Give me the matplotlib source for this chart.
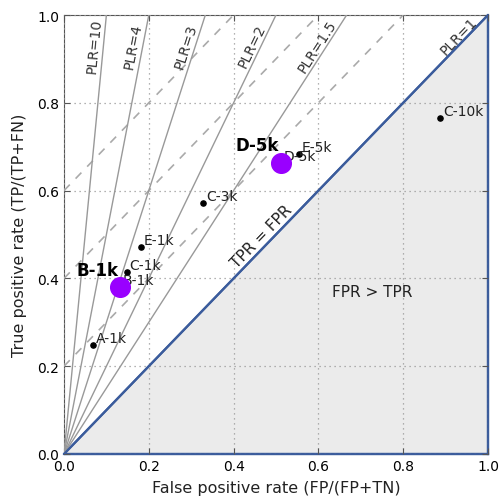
import numpy as np
import matplotlib
matplotlib.use("Agg")
import matplotlib.pyplot as plt
from matplotlib.patches import Polygon

# ---- data ----
point_names = ["A-1k", "B-1k", "C-1k", "E-1k", "C-3k", "D-5k", "E-5k", "C-10k"]
point_fpr = [0.069, 0.132, 0.148, 0.182, 0.329, 0.511, 0.554, 0.887]
point_tpr = [0.248, 0.380, 0.414, 0.471, 0.572, 0.664, 0.683, 0.765]
highlight = ["B-1k", "D-5k"]

plr_slopes = [10, 5, 3, 2, 1.5]
plr_labels = ["PLR=10", "PLR=4", "PLR=3", "PLR=2", "PLR=1.5"]
dashed_offsets = [0.2, 0.4, 0.6]
ticks = [0.0, 0.2, 0.4, 0.6, 0.8, 1.0]
tick_labels = ["0.0", "0.2", "0.4", "0.6", "0.8", "1.0"]

W, H = 501, 502
fig = plt.figure(figsize=(W / 100, H / 100), dpi=100)
ax_l, ax_r, ax_b, ax_t = 64, 488, 455, 16
ax = fig.add_axes([ax_l / W, 1 - ax_b / H, (ax_r - ax_l) / W, (ax_b - ax_t) / H])
ax.set_xlim(0, 1)
ax.set_ylim(0, 1)
aspect = (ax_b - ax_t) / (ax_r - ax_l)

blue = "#3b5c9c"

# shaded region
tri = Polygon([[0, 0], [1, 0], [1, 1]], closed=True, facecolor="#ebebeb",
              edgecolor=blue, lw=1.6, zorder=1, clip_on=False)
ax.add_patch(tri)

# grid
ax.grid(True, linestyle=(0, (1, 3)), color="#999999", lw=0.9, zorder=2)
ax.set_axisbelow(False)

# dashed iso lines
for c in dashed_offsets:
    ax.plot([0, 1 - c], [c, 1], color="#aaaaaa", lw=1.2, ls=(0, (5, 5)), zorder=3)

# PLR fan lines
for s, lab in zip(plr_slopes, plr_labels):
    ax.plot([0, 1 / s], [0, 1], color="#999999", lw=1.0, zorder=3)
    ang = np.degrees(np.arctan(s * aspect))
    ty = 0.93
    ax.text(ty / s - 0.022, ty, lab, rotation=ang, ha="center", va="center",
            fontsize=10, color="#333333", zorder=4)

# diagonal
ax.plot([0, 1], [0, 1], color=blue, lw=1.6, zorder=5)
ang1 = np.degrees(np.arctan(aspect))
ax.text(0.932, 0.952, "PLR=1", rotation=ang1, ha="center", va="center",
        fontsize=10, color="#333333", zorder=6)
ax.text(0.467, 0.497, "TPR = FPR", rotation=ang1, ha="center", va="center",
        fontsize=11, color="#222222", zorder=6)
ax.text(0.727, 0.371, "FPR > TPR", ha="center", va="center",
        fontsize=11, color="#222222", zorder=6)

# points
ax.scatter(point_fpr, point_tpr, s=14, color="black", zorder=7)
for n, x, y in zip(point_names, point_fpr, point_tpr):
    ax.annotate(n, (x, y), xytext=(2, 0), textcoords="offset points",
                ha="left", va="bottom", fontsize=10, color="#222222", zorder=7)

hx = [x for n, x in zip(point_names, point_fpr) if n in highlight]
hy = [y for n, y in zip(point_names, point_tpr) if n in highlight]
ax.scatter(hx, hy, s=200, color="#9900ff", zorder=8)
for n, x, y in zip(highlight, hx, hy):
    ax.annotate(n, (x, y), xytext=(-1, 6), textcoords="offset points",
                ha="right", va="bottom", fontsize=12, fontweight="bold",
                color="black", zorder=9)

ax.set_xticks(ticks)
ax.set_xticklabels(tick_labels)
ax.set_yticks(ticks)
ax.set_yticklabels(tick_labels)
ax.tick_params(direction="in", top=True, right=True, labelsize=10, length=4,
               color="#555555")
for sp in ["left", "top"]:
    ax.spines[sp].set_color("#555555")
for sp in ["right", "bottom"]:
    ax.spines[sp].set_color(blue)
    ax.spines[sp].set_linewidth(1.6)

ax.set_xlabel("False positive rate (FP/(FP+TN)", fontsize=11.5, color="#222222", labelpad=5)
ax.set_ylabel("True positive rate (TP/(TP+FN)", fontsize=11.5, color="#222222", labelpad=7)

fig.savefig("out.png", dpi=100)
